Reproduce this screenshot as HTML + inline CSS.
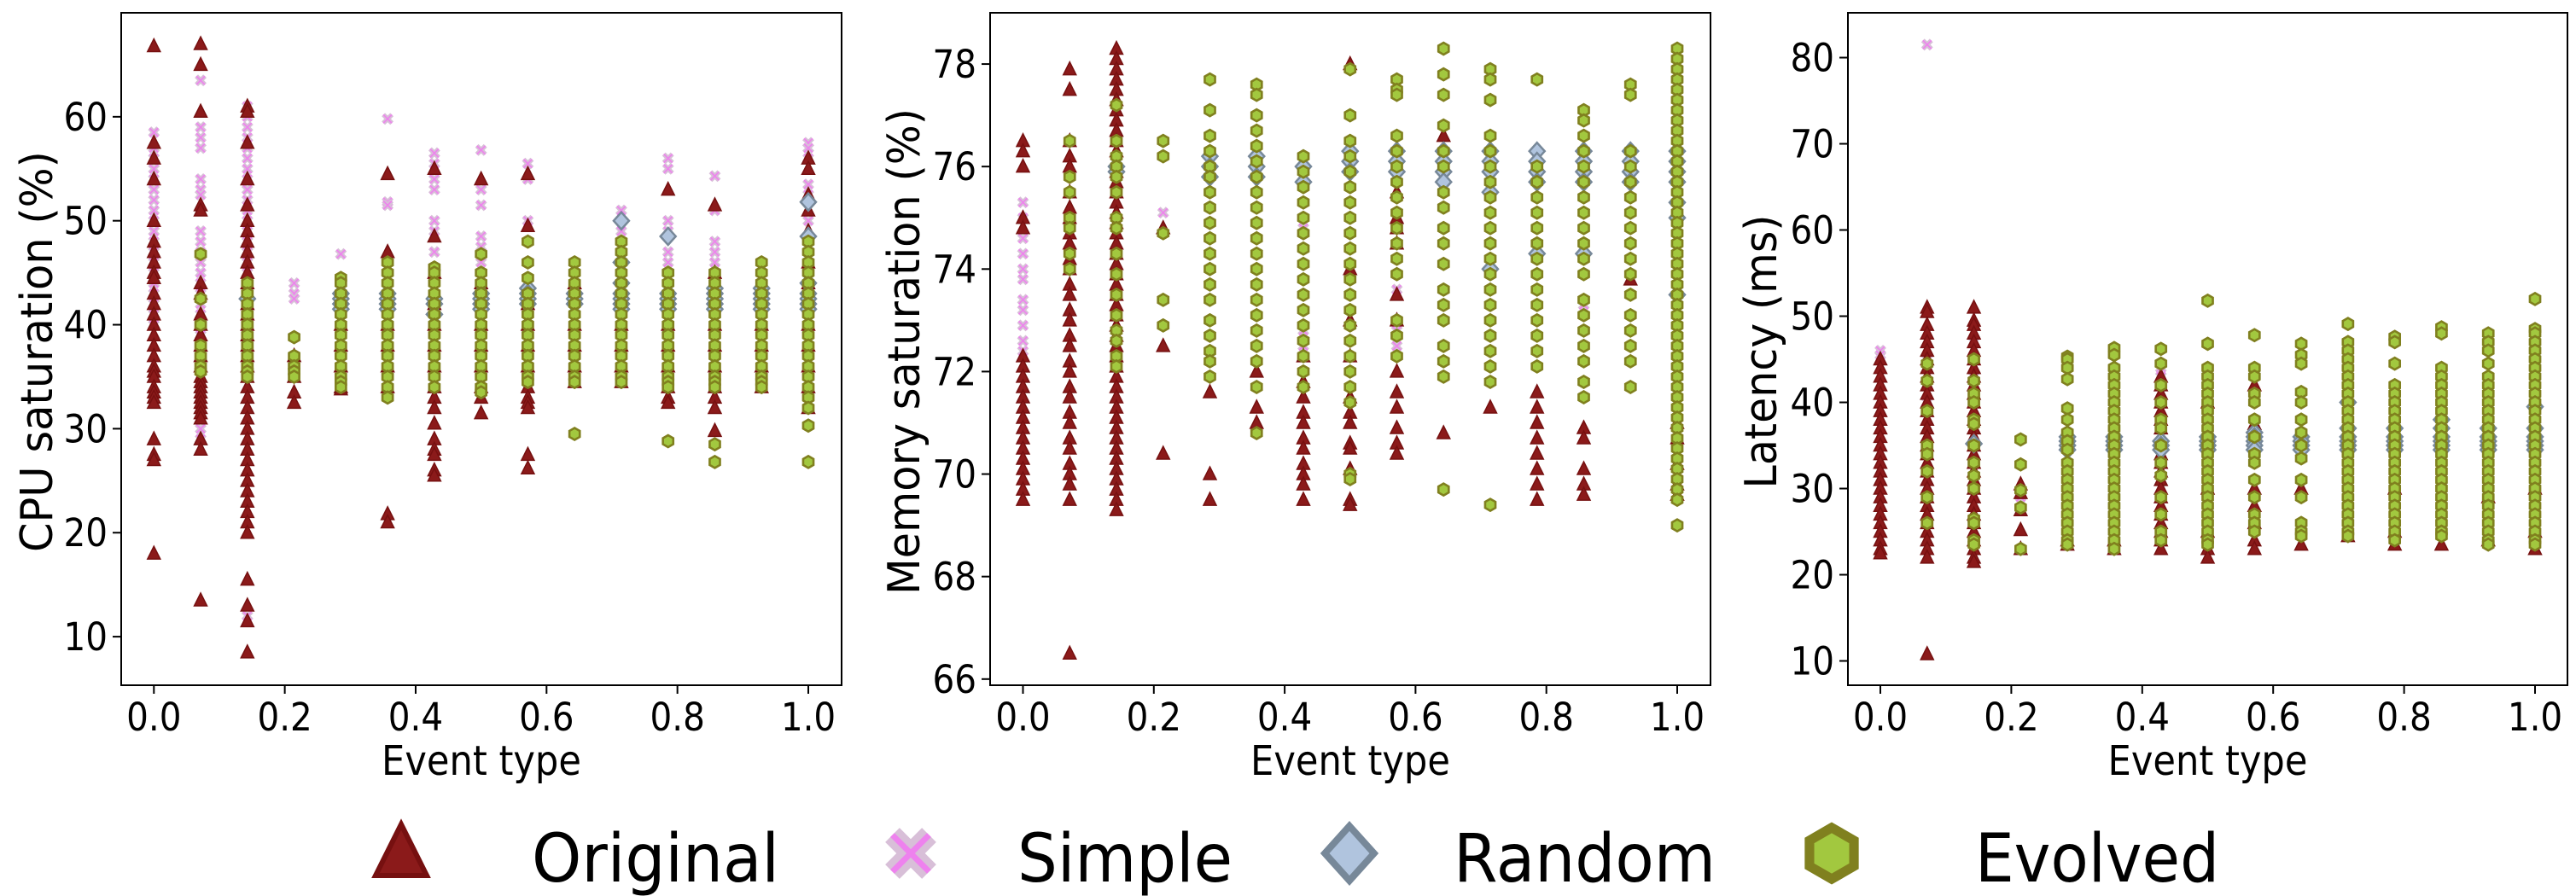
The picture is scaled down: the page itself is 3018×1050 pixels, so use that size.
<!DOCTYPE html>
<html><head><meta charset="utf-8"><style>
html,body{margin:0;padding:0;background:#fff;}
svg{display:block;}
text{font-family:"DejaVu Sans Condensed","DejaVu Sans","Liberation Sans",sans-serif;fill:#000;}
</style></head><body>
<svg id="chart" width="3018" height="1050" viewBox="0 0 3018 1050" xmlns="http://www.w3.org/2000/svg"></svg>
<script>
// ---- data ----
const categories = [0,1/14,2/14,3/14,4/14,5/14,6/14,7/14,8/14,9/14,10/14,11/14,12/14,13/14,1];
const xTicks = [0,0.2,0.4,0.6,0.8,1.0];
const xTickLabels = ["0.0","0.2","0.4","0.6","0.8","1.0"];
const cpuTicks = [10,20,30,40,50,60];
const memTicks = [66,68,70,72,74,76,78];
const latTicks = [10,20,30,40,50,60,70,80];

const cpuOriginal = [
[66.8,57.5,56,54,50,48,47,46,45,44.5,43,42,41,40,39,38,37,36,35.5,35,34,33.5,33,32.5,29,27.5,27,18],
[67,65,60.5,51.5,51,44,43,41,40,39,38,37,36,35,34.5,34,33.5,33,32.5,32,31.5,31,29,28,13.5],
[61,60.5,57.5,54,51.5,50,49,48,47,46,45,44,43,42,41,40,39,38,37,36,35,34,33,32,31,30,29,28,27,26,25,24,23,22,21,20,15.5,13,11.5,8.5],
[37,35,33.5,32.5],
[40,38,36,34,33.8],
[54.5,47,40,38,36,34,21.8,21],
[55,48.5,45,42,40,38,36,34,33,32,30.5,29,28,27.5,26,25.5],
[54,44,40,38,36,34,33,31.5],
[54.5,49.5,42,40,38,36,34,33,32.5,32,27.5,26.2],
[44,40,38,36,34.5],
[42,40,38,36,34.5],
[53,43,40,38,36,34,33,32.5],
[51.5,45,42,40,38,36,34,33,32,29.8],
[44,42,40,38,36,34],
[56,55,52.5,51,49,46,44,42,40,38,36,34,32]];
const cpuSimple = [
[58.5,57,56,55,54,53,52,51,50,49,48,47,46,45,44,43,42,41,40],
[63.5,59,58,57,54,53,52.5,49,48,47,46,45,44,43,42,41,40,39,38,37,30,29],
[61,60,59,58,57,56,55,54,53,52,51,50,49,48,47,46,45,44,43,42,12],
[44,43,42.5],[46.8,43,42],[59.8,51.8,51.5,43,42],
[56.5,55.5,54,53,50,49,47,45,43,42],
[56.8,53,51.5,48.5,47.5,46,45,43,42],
[55.5,54,50,48,46,44,43,42],[42.5],
[51,49,47,45,43,42],[56,55,50,49,47,46,45,43,42],
[54.3,51,48,47,46,45,43,42],[43,42],
[57.5,57,56,53.5,52.5,50,48,45,43,42]];
const cpuRandom = [[],[],[42.5],[],[43,42.5,42,41.5],[43,42.5,42,41.5],[42.5,42,41],[43,42.5,42,41.5],[43.5,43,42.5,42],[43,42.5,42],[50,46,44,43,42.5,42,41.5],[48.5,43,42.5,42,41.5],[43.5,43,42.5,42,41.5],[43.5,43,42.5,42,41.5],[51.8,48.5,44,43,42.5,42,41.5]];
const cpuEvolved = [[],
[46.8,42.5,40,38,37,36,35.5],
[44,43,42,41,40,39,38,37,36,35.5,35],
[38.8,37,36,35.5,35],
[44.5,44,43,42,41,40,39,38,37,36,35,34.5,34],
[46,45,44,43,42,41,40,39,38,37,36,35,34,33],
[45.5,45,44,43,42,41,40,39,38,37,36,35,34],
[46.8,45,44,43,42,41,40,39,38,37,36,35,34,33.5],
[48,46,44.5,43,42,41,40,39,38,37,36,35,34.5],
[46,45,44,43,42,41,40,39,38,37,36,35,34.5,29.5],
[48,47,46,45,44,43,42,41,40,39,38,37,36,35,34.5],
[45,44,43,42,41,40,39,38,37,36,35,34.5,34,28.8],
[45,44,43,42,41,40,39,38,37,36,35,34.5,34,28.5,26.8],
[46,45,44,43,42,41,40,39,38,37,36,35,34.5,34],
[48,47,46,45,44,43,42,41,40,39,38,37,36,35,34,33,32,30.3,26.8]];

const memOriginal = [
[76.5,76.3,76,75,74.8,72.3,72.1,71.9,71.7,71.5,71.3,71.1,70.9,70.7,70.5,70.3,70.1,69.9,69.7,69.5],
[77.9,77.5,76.5,76.2,76,75.5,75.2,75,74.7,74.5,74.2,74,73.7,73.5,73.2,73,72.7,72.5,72.2,72,71.7,71.5,71.2,71,70.7,70.5,70.2,70,69.8,69.5,66.5],
[78.3,78.1,77.9,77.7,77.5,77.3,77.1,76.9,76.7,76.5,76.3,76.1,75.9,75.7,75.5,75.3,75.1,74.9,74.7,74.5,74.3,74.1,73.9,73.7,73.5,73.3,73.1,72.9,72.7,72.5,72.3,72.1,71.9,71.7,71.5,71.3,71.1,70.9,70.7,70.5,70.3,70.1,69.9,69.7,69.5,69.3],
[74.8,72.5,70.4],[71.6,70,69.5],[72,71.3,71],
[72.3,71.8,71.5,71.2,71,70.7,70.5,70.2,70,69.8,69.5],
[78,74,73,72.3,71.5,71.2,71,70.6,70.5,70.1,69.5,69.4],
[75.5,75,74.8,74.5,73.5,73,72,71.6,71.3,70.9,70.6,70.4],
[76.6,70.8],[71.3],
[76.2,71.6,71.3,71,70.7,70.4,70.1,69.8,69.5],
[70.9,70.7,70.1,69.8,69.6],[73.8],
[71,70.7,70.2,69.8,69.6]];
const memSimple = [[75.3,75,74.6,74.3,74,73.8,73.4,73.2,72.9,72.6,72.4],[],[],[75.1],[],[],[74.8,72.8,72.5],[],[73.6,72.8,72.5],[],[],[],[73.3],[],[]];
const memRandom = [[],[],[76,75.9],[],[76.2,76,75.8],[76.2,76,75.8],[76,75.7],[76.3,76.1,75.9],[76.3,76.1,75.9],[76.3,76.1,75.9,75.7],[76.3,76.1,75.9,75.5,74],[76.3,76.1,75.9,75.7,74.3],[76.3,76.1,75.9,75.7,74.3],[76.3,76.1,75.9,75.7],[76.3,76.1,75.9,75.7,75.3,75,73.5]];
const memEvolved = [[],
[76.5,75.8,75.5,75,74.8,74.3,74],
[77.2,76.5,76.2,76,75.8,75.5,75,74.8,74.3,73.9,73.5,73.1,72.8,72.6,72.3,72.1],
[76.5,76.2,74.7,73.4,72.9],
[77.7,77.1,76.6,76.3,76,75.8,75.5,75.2,74.9,74.6,74.3,74,73.7,73.4,73,72.7,72.4,72.2,71.9],
[77.6,77.4,77,76.7,76.4,76.1,75.8,75.5,75.2,74.9,74.6,74.3,74,73.7,73.4,73.1,72.8,72.5,72.2,71.7,70.8],
[76.2,75.9,75.6,75.3,75,74.7,74.4,74.1,73.8,73.5,73.2,72.9,72.6,72.3,72,71.7],
[77.9,77,76.5,76.2,75.9,75.6,75.3,75,74.7,74.4,74.1,73.8,73.5,73.2,72.9,72.6,72.3,72,71.7,71.4,70,69.9],
[77.7,77.5,77.4,76.6,76.3,76,75.7,75.4,75.1,74.8,74.5,74.2,73.9,73,72.7,72.3],
[78.3,77.8,77.4,76.8,76.3,76,75.5,75.2,74.8,74.5,74.1,73.6,73.3,73,72.5,72.2,71.9,69.7],
[77.9,77.7,77.3,76.6,76.3,76,75.7,75.4,75.1,74.8,74.5,74.2,73.9,73.6,73.3,73,72.7,72.4,72.1,71.8,69.4],
[77.7,76,75.7,75.4,75.1,74.8,74.5,74.2,73.9,73.6,73.3,73,72.7,72.4,72.1],
[77.1,76.9,76.6,76.3,76,75.7,75.4,75.1,74.8,74.5,74.2,73.9,73.4,73.1,72.8,72.5,72.2,71.8,71.5],
[77.6,77.4,76.3,76,75.7,75.4,75.1,74.8,74.5,74.2,73.9,73.5,73.1,72.8,72.5,72.2,71.7],
[78.3,78.1,77.9,77.7,77.5,77.3,77.1,76.9,76.7,76.5,76.3,76.1,75.9,75.7,75.5,75.3,75.1,74.9,74.7,74.5,74.3,74.1,73.9,73.7,73.5,73.3,73.1,72.9,72.7,72.5,72.3,72.1,71.9,71.7,71.5,71.3,71.1,70.9,70.7,70.5,70.3,70.1,69.9,69.7,69.5,69]];

const latOriginal = [
[45,44,43,42,41,40,39,38,37,36,35,34,33,32,31,30,29,28,27,26,25,24,23,22.5],
[51,50.5,49,48,47,46,45,44,43,42,41,40,39,38,37,36,35,34,33,32,31,30,29,28,27,26,25,24,23,22,10.8],
[51,49.5,49,48,47,46,45,44,43,42,41,40,39,38,37,36,35,34,33,32,31,30,29,28,27,26,25,24,23,22,21.5],
[30.5,29.5,27.5,25.2,23],[24,23.5],[23,24],
[43,42,41,40,39,38,37,36,35,34,33,32,31,30,29,28,27,26,25,24,23],
[40,35,30,25,23,22],[42,37.5,35,30,28,26,24,23],
[30,23.5],[24.5],[36,30,25,23.5],[23.5],[29,24],[35,30,25,23]];
const latSimple = [[46,45.5],[81.5,45,40],[47,45,43],[29],[],[],[44,43],[],[38],[29],[],[],[],[28.5],[]];
const latRandom = [[],[],[35.2],[],[36,35.5,35,34.5],[36,35.5,35,34.5],[35.5,35,34.5],[36,35.5,35,34.5],[36.5,36,35.5,35,34.5],[36,35.5,35,34.5],[40,37,36,35.5,35,34.5],[37,36,35.5,35,34.5],[38,37,36,35.5,35,34.5],[37,36,35.5,35,34.5],[39.5,37,36,35.5,35,34.5]];
const latEvolved = [[],
[44.5,42.5,39,35,34,32,29,26],
[45,42.5,41,40,38,37.5,35,33,31.5,30,26.5,26,24,23.5],
[35.7,32.8,29.8,27.8,23],
[45.3,45,44,42.7,39.3,38,36.5,35.5,34.5,33,32,31,30,29,28,27,26,25,24,23.5],
[46.3,45.5,44,43,42,41,40,39,38,37,36,35,34,33,32,31,30,29,28,27,26,25,24,23],
[46.2,44.5,42,40,38,37,35,33,31.5,29,27,25,24],
[51.8,46.8,44,43,42,41,40,39,38,37,36,35,34,33,32,31,30,29,28,27,26,25,24,23.5],
[47.8,44,43,41,40,38,36,34,33,31,29,27,26,25],
[46.8,45.5,44.5,41.2,40,38,36.5,35,33.5,31,29,26,25,24.5],
[49.1,47,46,45,44,43,42,41,40,39,38,37,36,35,34,33,32,31,30,29,28,27,26,25,24.5],
[47.6,47,44.5,42,41,40,39,38,37,36,35,34,33,32,31,30,29,28,27,26,25,24],
[48.7,48,44,43,42,41,40,39,38,37,36,35,34,33,32,31,30,29,28,27,26,25,24.5],
[48,47,46,44.5,43,42,41,40,39,38,37,36,35,34,33,32,31,30,29,28,27,26,25,24,23.5],
[52,48.5,48,47,46,45,44,43,42,41,40,39,38,37,36,35,34,33,32,31,30,29,28,27,26,25,24,23.5]];

// ---- drawing ----
const NS = "http://www.w3.org/2000/svg";
const svg = document.getElementById('chart');
function mk(tag, attrs, parent){ const e=document.createElementNS(NS,tag); for(const k in attrs) e.setAttribute(k,attrs[k]); (parent||svg).appendChild(e); return e; }

function triangle(g,cx,cy,s){ return mk('polygon',{points:`${cx},${cy-8.5*s} ${cx-7.5*s},${cy+6.5*s} ${cx+7.5*s},${cy+6.5*s}`,fill:'#8b1a1a',stroke:'#761010','stroke-width':1.5*s},g); }
function xmark(g,cx,cy,s){ const gg=mk('g',{},g); const d=`M${cx-5*s},${cy-5*s}L${cx+5*s},${cy+5*s}M${cx+5*s},${cy-5*s}L${cx-5*s},${cy+5*s}`; mk('path',{d:d,stroke:'#d8bfd8','stroke-width':5.5*s,fill:'none'},gg); mk('path',{d:d,stroke:'#ee82ee','stroke-width':1.6*s,fill:'none'},gg); return gg; }
function diamond(g,cx,cy,s){ return mk('polygon',{points:`${cx},${cy-10*s} ${cx+9*s},${cy} ${cx},${cy+10*s} ${cx-9*s},${cy}`,fill:'#b0c4de',stroke:'#778899','stroke-width':2.5*s},g); }
function hexagon(g,cx,cy,s){ let p=[]; for(let k=0;k<6;k++){const a=Math.PI/180*(90+60*k); p.push((cx+7*s*Math.cos(a)).toFixed(2)+','+(cy-7*s*Math.sin(a)).toFixed(2));} return mk('polygon',{points:p.join(' '),fill:'#a2c83f',stroke:'#80801f','stroke-width':2.6*s},g); }

const panels = [
 {name:'cpu', left:142, right:986, top:15, bottom:803, x0px:180.3, x1px:947, ymin:5.33, ymax:70.0, ticks:cpuTicks, label:'CPU saturation (%)', labelX:44, labelLen:470,
  series:[cpuSimple,cpuOriginal,cpuRandom,cpuEvolved]},
 {name:'memory', left:1160, right:2004, top:15, bottom:803, x0px:1198.5, x1px:1965, ymin:65.88, ymax:79.0, ticks:memTicks, label:'Memory saturation (%)', labelX:1060, labelLen:570,
  series:[memSimple,memOriginal,memRandom,memEvolved]},
 {name:'latency', left:2165, right:3008, top:15, bottom:803, x0px:2203, x1px:2970, ymin:7.18, ymax:85.2, ticks:latTicks, label:'Latency (ms)', labelX:2064, labelLen:321,
  series:[latSimple,latOriginal,latRandom,latEvolved]}
];
const seriesNames=['simple','original','random','evolved'];
const drawFns=[xmark,triangle,diamond,hexagon];

panels.forEach(p=>{
  const g = mk('g',{});
  
  
  const xs = v => p.x0px + (p.x1px-p.x0px)*v;
  const ys = v => p.bottom - (v-p.ymin)/(p.ymax-p.ymin)*(p.bottom-p.top);
  p.series.forEach((ser,si)=>{
    const sg = mk('g',{},g);
    
    
    ser.forEach((col,ci)=>{
      col.forEach(v=>{
        const m = drawFns[si](sg, xs(categories[ci]), ys(v), 1);
        
        
      });
    });
  });
  const fr = mk('rect',{x:p.left,y:p.top,width:p.right-p.left,height:p.bottom-p.top,fill:'none',stroke:'#000','stroke-width':2},g);
  
  
  xTicks.forEach((t,i)=>{
    const x=xs(t);
    mk('line',{x1:x,y1:p.bottom,x2:x,y2:p.bottom+10,stroke:'#000','stroke-width':2},g);
    const tl = mk('text',{x:x,y:856,'text-anchor':'middle','font-size':45},g);
    tl.textContent = xTickLabels[i];
    
    
  });
  p.ticks.forEach(t=>{
    const y=ys(t);
    mk('line',{x1:p.left-10,y1:y,x2:p.left,y2:y,stroke:'#000','stroke-width':2},g);
    const tl = mk('text',{x:p.left-16,y:y+16,'text-anchor':'end','font-size':45},g);
    tl.textContent = String(t);
    
    
  });
  const cx=(p.left+p.right)/2;
  const xl = mk('text',{x:cx,y:908,'text-anchor':'middle','font-size':48},g);
  xl.textContent='Event type';
  
  
  const yc=412;
  const yl = mk('text',{x:p.labelX,y:yc,'text-anchor':'middle','font-size':52,transform:`rotate(-90 ${p.labelX} ${yc})`,'dominant-baseline':'central',textLength:p.labelLen,lengthAdjust:'spacingAndGlyphs',style:'font-family:"DejaVu Sans","Liberation Sans",sans-serif'},g);
  yl.textContent=p.label;
  
  
});

const legendLabels=['Original','Simple','Random','Evolved'];
const legendMarkerX=[470,1067,1581,2146];
const legendTextX=[623,1192,1703,2314];
const legendTextW=[290,252,307,286];
const legendScale=[4.0,4.3,3.2,4.3];
const legendFns=[triangle,xmark,diamond,hexagon];
const lg = mk('g',{});


legendLabels.forEach((lab,i)=>{
  const eg = mk('g',{},lg);
  
  
  legendFns[i](eg, legendMarkerX[i], 1000, legendScale[i]);
  const t = mk('text',{x:legendTextX[i],y:1033,'font-size':78,textLength:legendTextW[i],lengthAdjust:'spacingAndGlyphs'},eg);
  t.textContent=lab;
});
</script>
</body></html>
